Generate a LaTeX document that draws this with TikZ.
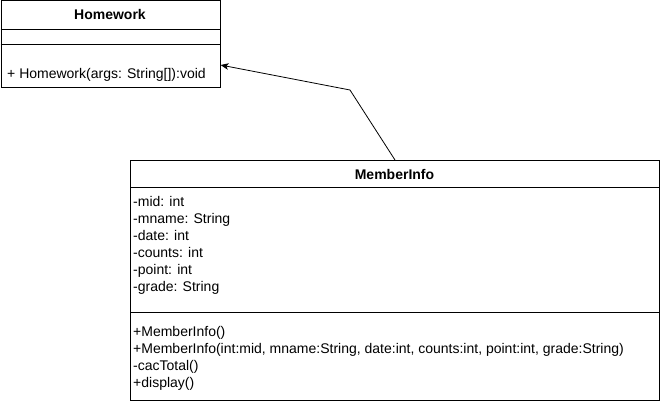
\documentclass[tikz,border=0pt]{standalone}
\usepackage{fontspec}
\setmainfont{Liberation Sans}
\usetikzlibrary{arrows.meta}
\begin{document}
\begin{tikzpicture}[x=1pt,y=-1pt,
  umlbox/.style={draw,line width=1pt,inner sep=0pt,anchor=north west},
  divider/.style={line width=1pt},
  title/.style={font=\fontsize{14}{16}\selectfont\bfseries,inner sep=0pt,anchor=base},
  member/.style={font=\fontsize{14}{16}\selectfont,inner sep=0pt,anchor=base west},
  conn/.style={line width=0.8pt,-{Stealth[length=8pt,width=6.5pt,inset=2pt]}}]
\useasboundingbox (0,0) rectangle (661,404);
% Homework class
\node[umlbox,minimum width=219.5pt,minimum height=86pt] (hw) at (0.5,0.5) {};
\node[title] (hwt) at (110,20) {Homework};
\draw[divider] (hw.west |- 0,30) -- (hw.east |- 0,30);
\draw[divider] (hw.west |- 0,45) -- (hw.east |- 0,45);
\node[member] (hwm) at (7,78) {+ Homework(args: String[]):void};
% MemberInfo class
\node[umlbox,minimum width=529pt,minimum height=240pt] (mi) at (130,160) {};
\node[title] (mit) at (394.5,179) {MemberInfo};
\draw[divider] (mi.west |- 0,187) -- (mi.east |- 0,187);
\draw[divider] (mi.west |- 0,312) -- (mi.east |- 0,312);
\node[member] (a1) at (133,206) {-mid: int};
\node[member] (a2) at (133,223) {-mname: String};
\node[member] (a3) at (133,240) {-date: int};
\node[member] (a4) at (133,257) {-counts: int};
\node[member] (a5) at (133,274) {-point: int};
\node[member] (a6) at (133,291) {-grade: String};
\node[member] (m1) at (133,336) {+MemberInfo()};
\node[member] (m2) at (133,353) {+MemberInfo(int:mid, mname:String, date:int, counts:int, point:int, grade:String)};
\node[member] (m3) at (133,370) {-cacTotal()};
\node[member] (m4) at (133,387) {+display()};
% connector
\coordinate (bend) at (350,90);
\coordinate (tip) at (220.5,65);
\draw[conn] (mi.north) -- (bend) -- (tip);
\end{tikzpicture}
\end{document}
